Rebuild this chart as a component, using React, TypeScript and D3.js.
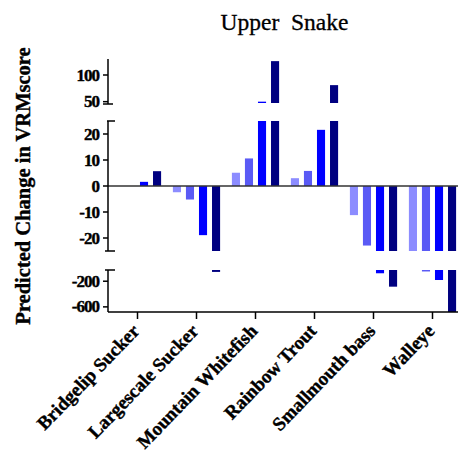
import React from "react";
import * as d3 from "d3";

const categories = [
  "Bridgelip Sucker",
  "Largescale Sucker",
  "Mountain Whitefish",
  "Rainbow Trout",
  "Smallmouth bass",
  "Walleye",
];
const seriesNames = ["s1", "s2", "s3", "s4"];
const seriesColors = ["#8c8cff", "#5a5af5", "#0000ff", "#000080"];
const s1 = [0, -2.4, 5.1, 3.0, -11.2, -25];
const s2 = [0, -5.2, 10.6, 5.8, -22.9, -48];
const s3 = [1.6, -18.9, 50, 21.6, -76, -181];
const s4 = [5.7, -55, 126, 81, -285, -690];
const seriesValues = [s1, s2, s3, s4];

const topTicks = [50, 100];
const midTicks = [-20, -10, 0, 10, 20];
const botTicks = [-200, -600];

const W = 458;
const H = 455;
const axisX = 108;

export default function App() {
  const x0 = d3
    .scaleBand<string>()
    .domain(categories)
    .range([axisX, axisX + 6 * 59])
    .paddingInner(0.2)
    .paddingOuter(0.1);
  const x1 = d3
    .scaleBand<string>()
    .domain(seriesNames)
    .range([0, x0.bandwidth()])
    .paddingInner(0.38)
    .paddingOuter(0);

  const yTop = d3.scaleLinear().domain([47.5, 130]).range([103, 59]).clamp(true);
  const yMid = d3.scaleLinear().domain([-25, 25]).range([251, 121]).clamp(true);
  const yBot = d3.scaleLinear().domain([-25, -680]).range([270, 312]).clamp(true);

  const font = "'Liberation Serif', 'Times New Roman', serif";
  const bars: JSX.Element[] = [];
  categories.forEach((c, ci) => {
    seriesNames.forEach((s, si) => {
      const v = seriesValues[si][ci];
      const bx = (x0(c) as number) + (x1(s) as number);
      const bw = x1.bandwidth();
      const col = seriesColors[si];
      const m0 = yMid(0);
      const m1 = yMid(v);
      if (v !== 0) {
        bars.push(
          <rect key={`m-${ci}-${si}`} x={bx} y={Math.min(m0, m1)} width={bw} height={Math.abs(m1 - m0)} fill={col} />
        );
      }
      if (v > 47.5) {
        const t0 = yTop(47.5);
        const t1 = yTop(v);
        bars.push(<rect key={`t-${ci}-${si}`} x={bx} y={t1} width={bw} height={t0 - t1} fill={col} />);
      }
      if (v < -25) {
        const b0 = yBot(-25);
        const b1 = yBot(v);
        bars.push(<rect key={`b-${ci}-${si}`} x={bx} y={b0} width={bw} height={b1 - b0} fill={col} />);
      }
    });
  });

  const tickLabel = (y: number, t: number, key: string) => (
    <g key={key}>
      <line x1={axisX - 5} x2={axisX} y1={y} y2={y} stroke="#000" strokeWidth={1.5} />
      <text
        x={axisX - 9}
        y={y + 5.5}
        textAnchor="end"
        fontFamily={font}
        fontWeight="bold"
        fontSize={17}
        letterSpacing={-1}
        stroke="#000"
        strokeWidth={0.4}
      >
        {t}
      </text>
    </g>
  );

  return (
    <svg width={W} height={H} style={{ position: "absolute", left: 0, top: 0, background: "#fff" }}>
      <text x={284.5} y={30} textAnchor="middle" fontFamily={font} fontSize={23.5} stroke="#000" strokeWidth={0.3} style={{ whiteSpace: "pre" }}>
        {"Upper  Snake"}
      </text>
      <text
        transform={`translate(30,186) rotate(-90)`}
        textAnchor="middle"
        fontFamily={font}
        fontWeight="bold"
        fontSize={20.5}
        stroke="#000"
        strokeWidth={0.4}
      >
        Predicted Change in VRMscore
      </text>
      {bars}
      {/* zero line */}
      <line x1={axisX} x2={W} y1={yMid(0)} y2={yMid(0)} stroke="#333" strokeWidth={1.5} />
      {/* top segment axis */}
      <line x1={axisX} x2={axisX} y1={59} y2={104} stroke="#000" strokeWidth={1.5} />
      <line x1={axisX - 5} x2={axisX + 5} y1={104} y2={104} stroke="#000" strokeWidth={1.5} />
      {topTicks.map((t) => tickLabel(yTop(t), t, `tt${t}`))}
      {/* middle segment */}
      <line x1={axisX} x2={axisX} y1={yMid(25)} y2={yMid(-25)} stroke="#000" strokeWidth={1.5} />
      <line x1={axisX - 1} x2={axisX + 7} y1={yMid(25)} y2={yMid(25)} stroke="#000" strokeWidth={1.5} />
      <line x1={axisX - 3} x2={axisX + 7} y1={yMid(-25)} y2={yMid(-25)} stroke="#000" strokeWidth={1.5} />
      {midTicks.map((t) => tickLabel(yMid(t), t, `mt${t}`))}
      {/* bottom segment */}
      <line x1={axisX} x2={axisX} y1={yBot(-25)} y2={312} stroke="#000" strokeWidth={1.5} />
      <line x1={axisX - 3} x2={axisX + 7} y1={yBot(-25)} y2={yBot(-25)} stroke="#000" strokeWidth={1.5} />
      {botTicks.map((t) => tickLabel(yBot(t), t, `bt${t}`))}
      {/* x axis */}
      <line x1={axisX} x2={W} y1={312} y2={312} stroke="#000" strokeWidth={1.5} />
      {categories.map((c) => {
        const cx = (x0(c) as number) + x0.bandwidth() / 2;
        return (
          <g key={c}>
            <line x1={cx} x2={cx} y1={312} y2={319} stroke="#000" strokeWidth={1.5} />
            <text
              transform={`translate(${cx + 3},${332}) rotate(-46)`}
              textAnchor="end"
              fontFamily={font}
              fontWeight="bold"
              fontSize={19}
              stroke="#000"
              strokeWidth={0.4}
            >
              {c}
            </text>
          </g>
        );
      })}
    </svg>
  );
}
